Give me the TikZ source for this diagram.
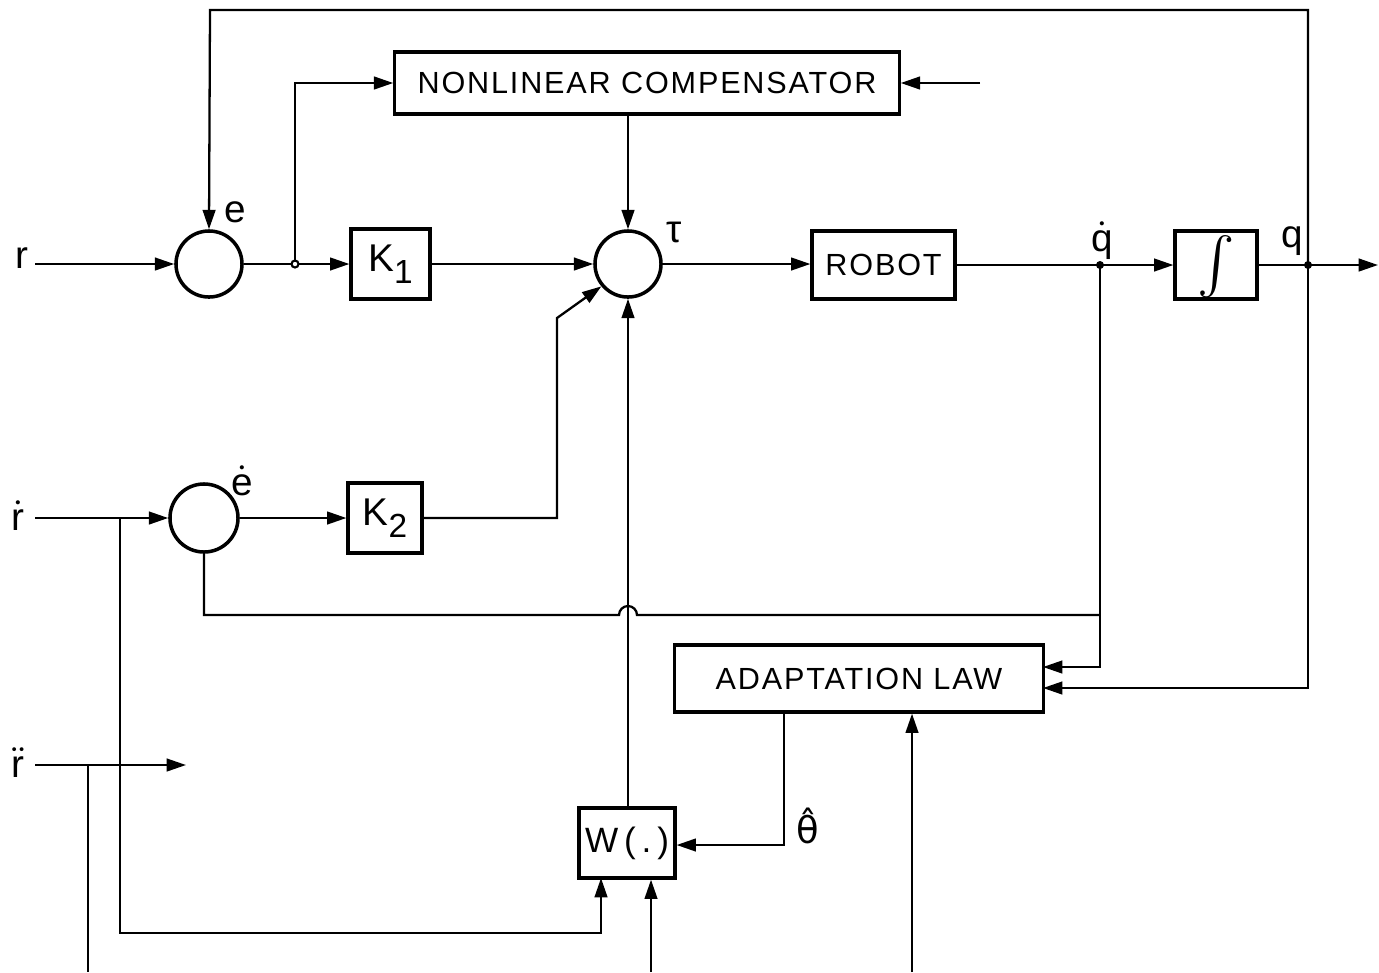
\documentclass[tikz,border=0pt]{standalone}
\usepackage{fontspec}
\usepackage{graphicx}
\setmainfont{Liberation Sans}
\newfontfamily\boxfont[LetterSpace=6]{Liberation Sans}
\newfontfamily\dejavu{DejaVu Sans}
\usetikzlibrary{arrows.meta}
\begin{document}
\begin{tikzpicture}[x=0.01cm,y=-0.01cm,
 blk/.style={draw,line width=0.9pt,inner sep=0,font=\boxfont\fontsize{8.7}{10}\selectfont},
 sumc/.style={draw,circle,line width=1pt,minimum size=0.66cm,inner sep=0},
 ln/.style={line width=0.65pt},
 arr/.style={ln,-{Triangle[length=5.5pt,width=3.6pt]}},
 lbl/.style={font=\fontsize{11}{13}\selectfont,inner sep=0},
 jdot/.style={circle,fill,inner sep=0,minimum size=0.08cm}]
\useasboundingbox (0,0) rectangle (1379,972);
% blocks
\node[sumc] (s1) at (209,264) {};
\node[sumc] (s2) at (628,264) {};
\node[sumc,minimum size=0.68cm] (s3) at (204,518) {};
\node[blk,minimum width=0.79cm,minimum height=0.70cm,font=\fontsize{11}{13}\selectfont] (k1) at (390.5,264) {K\raisebox{-0.6ex}{\fontsize{9.5}{10}\selectfont 1}};
\node[blk,minimum width=0.74cm,minimum height=0.70cm,font=\fontsize{11}{13}\selectfont] (k2) at (385,518) {K\raisebox{-0.6ex}{\fontsize{9.5}{10}\selectfont 2}};
\node[blk,minimum width=5.04cm,minimum height=0.62cm] (nlc) at (647,83) {NONLINEAR COMPENSATOR};
\node[blk,minimum width=1.43cm,minimum height=0.68cm] (rob) at (883.5,265) {ROBOT};
\node[blk,minimum width=0.82cm,minimum height=0.68cm,text height=0.25cm,text depth=0.05cm] (int) at (1216,265) {\raisebox{-0.04cm}[0.2cm][0cm]{\scalebox{1.6}{$\int$}}};
\node[blk,minimum width=3.68cm,minimum height=0.67cm] (adl) at (859,678.5) {ADAPTATION LAW};
\node[blk,minimum width=0.96cm,minimum height=0.70cm,font=\boxfont\fontsize{10}{12}\selectfont] (w) at (627,843) {W\,(\,.\,)};
% labels
\node[lbl] (lr) at (22,258) {r};
\node[lbl] (lrd) at (18,516) {$\dot{\mathrm{r}}$};
\node[lbl] (lrdd) at (18,763) {$\ddot{\mathrm{r}}$};
\node[lbl] (le) at (235,212) {e};
\node[lbl] (led) at (242,481) {$\dot{\mathrm{e}}$};
\node[lbl] (ltau) at (674,232) {τ};
\node[lbl] (lqd) at (1102,241) {$\dot{\mathrm{q}}$};
\node[lbl] (lq) at (1292,241) {q};
\node[lbl,font=\dejavu\fontsize{10.5}{13}\selectfont] (lth) at (808,826) {θ̂};
% coordinates
\coordinate (rin) at (35,264);
\coordinate (j1) at (295,264);
\coordinate (nin) at (980,83);
\coordinate (qd) at (1100,265);
\coordinate (q) at (1308,265);
\coordinate (out) at (1378,265);
\coordinate (t1) at (210,10);
\coordinate (t2) at (1308,10);
\coordinate (a1) at (1043,667);
\coordinate (a2) at (1043,688);
\coordinate (f1) at (1100,615);
\coordinate (h1) at (637,615);
\coordinate (f2) at (204,615);
\coordinate (rdin) at (35,518);
\coordinate (b1) at (120,518);
\coordinate (c1) at (120,933);
\coordinate (wb1) at (601,878);
\coordinate (k2c) at (557,518);
\coordinate (k2d) at (557,318);
\coordinate (th) at (784,845);
\coordinate (rddin) at (35,765);
\coordinate (rddend) at (186,765);
\coordinate (b2) at (88,765);
\coordinate (b2e) at (88,972);
\coordinate (bw) at (651,972);
\coordinate (ba) at (912,972);
% connectors
\draw[arr] (rin) -- (s1.west);
\draw[ln] (s1.east) -- (j1);
\draw[arr] (j1) -- (k1.west);
\draw[arr] (j1) |- (nlc.west);
\draw[arr] (nin) -- (nlc.east);
\draw[arr] (k1.east) -- (s2.west);
\draw[arr] (nlc.south -| s2) -- (s2.north);
\draw[arr] (s2.east) -- (s2.east -| rob.west);
\draw[ln] (rob.east) -- (qd);
\draw[arr] (qd) -- (int.west);
\draw[ln] (int.east) -- (q);
\draw[arr] (q) -- (out);
\draw[arr] (q) -- (t2) -- (t1) -- (s1.north);
\draw[arr] (qd) |- (a1);
\draw[arr] (q) |- (a2);
\draw[ln] (f1) -- (h1) arc (0:-180:9) -- (f2) -- (s3.south);
\draw[arr] (rdin) -- (s3.west);
\draw[arr] (b1) -- (c1) -| (wb1);
\draw[arr] (s3.east) -- (k2.west);
\draw[arr] (k2.east) -- (k2c) -- (k2d) -- (s2.220);
\draw[arr] (w.north -| s2) -- (s2.south);
\draw[arr] (adl.south -| th) -- (th) -- (th -| w.east);
\draw[arr] (rddin) -- (rddend);
\draw[ln] (b2) -- (b2e);
\draw[arr] (bw) -- (bw |- w.south);
\draw[arr] (ba) -- (ba |- adl.south);
\node[circle,draw,fill=white,inner sep=0,minimum size=0.07cm,line width=0.6pt] (j1d) at (j1) {};
\node[jdot] (qdd) at (qd) {};
\node[jdot] (qq) at (q) {};
\end{tikzpicture}
\end{document}
